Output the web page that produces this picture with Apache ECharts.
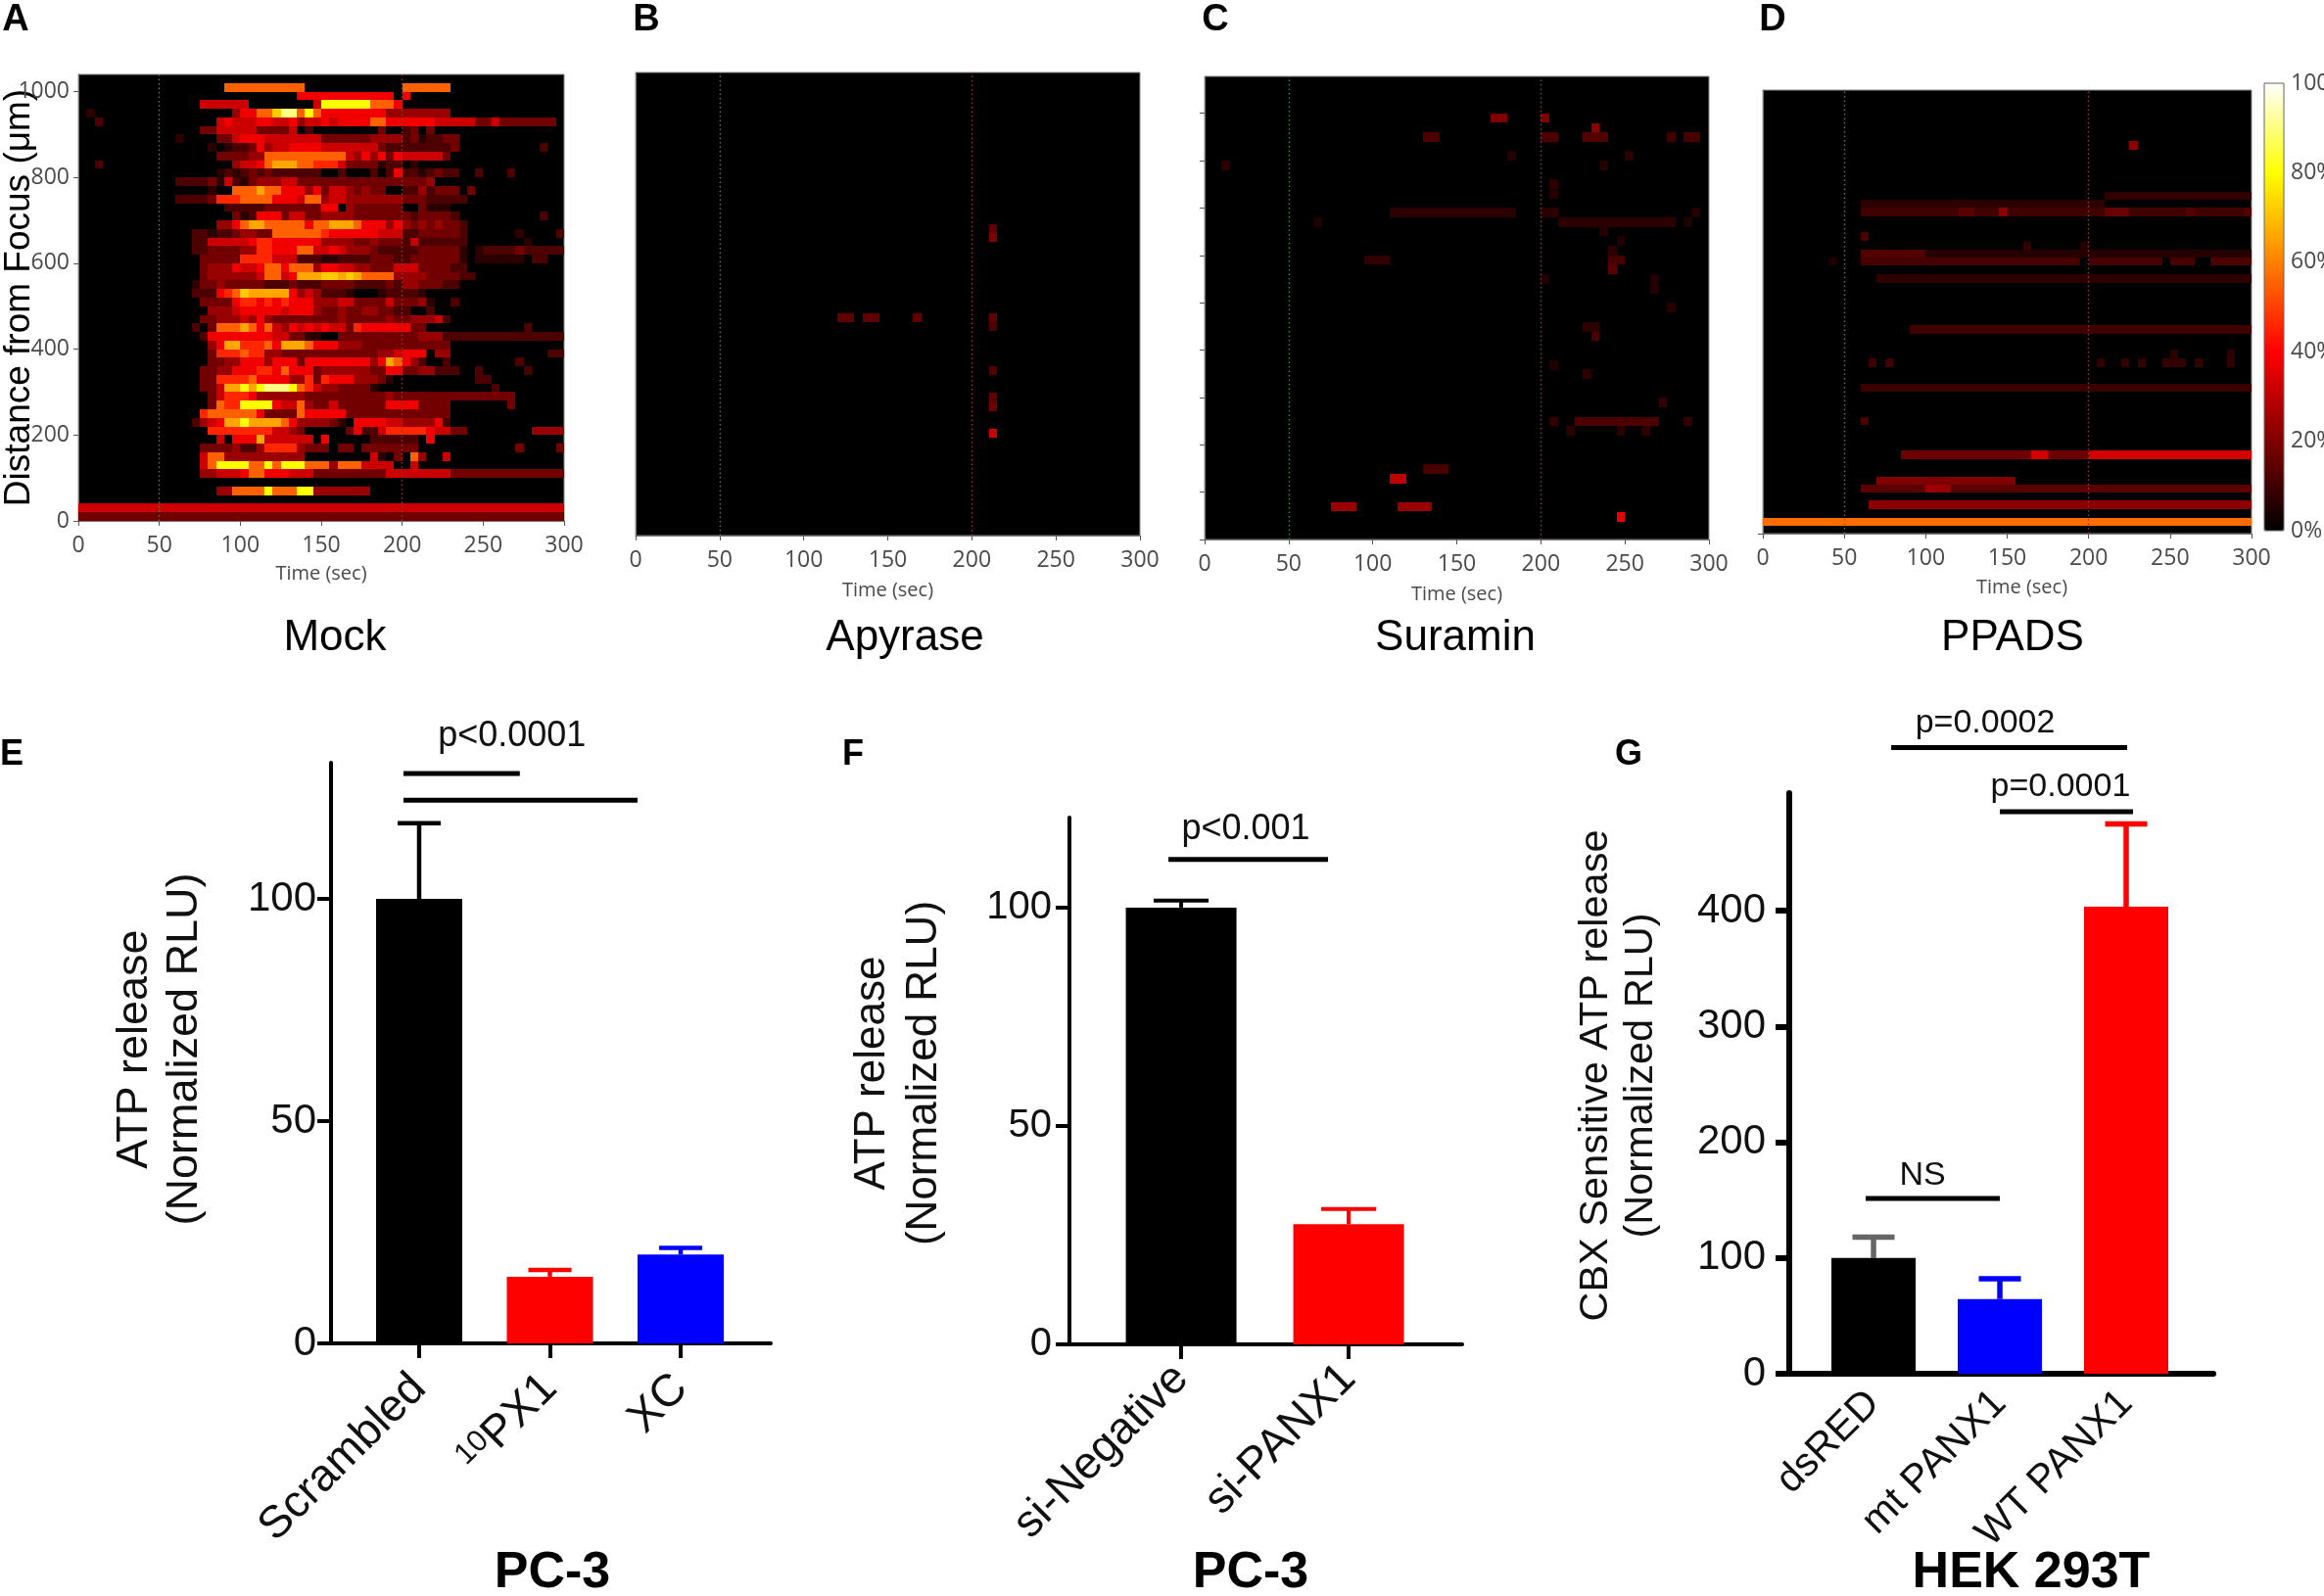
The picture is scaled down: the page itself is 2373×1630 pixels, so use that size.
<!DOCTYPE html>
<html><head><meta charset="utf-8">
<style>html,body{margin:0;padding:0;background:#fff}#c{width:2373px;height:1630px}</style>
<script src="https://cdn.jsdelivr.net/npm/echarts@6/dist/echarts.min.js"></script></head>
<body><div id="c"></div>
<script>
// ---------- heat map levels: one character per 5 s cell, % of maximum
const heatLevels = {0:0,1:7,2:12,3:18,4:24,5:32,6:38,7:46,8:55,9:66,a:72,b:80,c:90};
// Panel A, Mock: rows of 20 um from 1000-1020 (first) down to 0-20 (last), 60 columns of 5 s
const mockRows = [
"0000000000 0000000088 8888888800 0000000000 8888880000 0000000000",
"0000000000 0000000000 0000000666 6666666660 6000000000 0000000000",
"0000000000 0000055555 5000000005 bbbbbb8886 0000000000 0000000000",
"0100000000 0000000004 6688acc8b8 6666666644 4444440000 0000000000",
"0020000000 0000000565 5566556455 6566668866 6666555553 3533333330",
"0000000000 0000033555 5533335020 0000000300 2303000000 0000000000",
"0000000000 0010000335 6665555555 3333334444 2312233000 0000000000",
"0000000000 0000001012 2364556666 5555555322 2222223000 0000000200",
"0000000000 0000000333 3448888888 8885464636 5555530000 0000000000",
"0020000000 0000000004 5568999887 7753333122 0100000000 0000000000",
"0000000000 0000000121 2323222222 0020002026 2212322002 0002000000",
"0000000000 0022223152 1344455333 3333333333 3334000000 0000000000",
"0000000000 0000001008 8898866646 3554343300 2242333030 0000000000",
"0000000000 0022223777 8888666588 4554444444 3332222200 0000000000",
"0000000000 0000000022 2223333333 6604333333 0031110000 0000000000",
"0000000000 0000000003 1266635533 4444333333 3233332000 0000000200",
"0000000000 0000000446 8998888868 8999866646 4343433200 0000000000",
"0000000000 0000221223 4433888888 7666666555 2233333200 0000100002",
"0000000000 0000225555 5677666666 4444334333 2522222200 0000010000",
"0000000000 0000223333 4477666885 5654443222 2233333101 2222322222",
"0000000000 0000033333 7777555222 1122223332 2333333101 1111102200",
"0000000000 0000034446 5568868884 6655443335 5533332200 0000000000",
"0000000000 0000034444 4458856999 aa9a988884 4443333220 0000000000",
"0000000000 0000133433 3332223222 3333222232 4433322000 0000000000",
"0000000000 0000222678 a999996454 2221000122 2210000000 0000000000",
"0000000000 0000033336 7767676664 4455333353 3341002000 0000000000",
"0000000000 0000004445 6666656664 3343344332 2002000000 0000000000",
"0000000000 0000033444 5464333333 3343333343 3444520000 0000000000",
"0000000000 0000203888 9868546565 6553766666 6330000000 0000020000",
"0000000000 0000026666 6666553311 0033333333 3344422222 2222222222",
"0000000000 0000004699 7778699986 6644433333 3333330000 0000000000",
"0000000000 0000003777 8774433333 3333333445 6660440000 0000000022",
"0000000000 0000003344 6664666366 6666664698 6420020000 0000200000",
"0000000000 0000033446 6677686663 4444443366 3344222002 0000020000",
"0000000000 0000033777 7866664473 7666444310 0000000002 2000000000",
"0000000000 0000033599 b9bcccb875 4433331000 0000000000 0200000000",
"0000000000 0000003577 7644444433 3333333343 3333333333 3333000000",
"0000000000 0000003877 bbbb655843 3533333366 6633330000 0003000000",
"0000000000 0000078888 8863333866 6663333333 3333330000 0000000000",
"0000000000 0000245699 b999986444 4310666655 4444620000 0000000000",
"0000000000 0000007777 7777554300 0003622577 7776553300 0000004444",
"0000000000 0000000506 6695555550 6000002222 2206000000 0000000000",
"0000000000 0000033334 2247777433 3033033333 3300000000 0000300003",
"0000000000 0000058844 4444444400 0000005103 0840050000 0000000000",
"0000000000 0000058bbb b88b8bbb88 8488855550 0500000000 0000000000",
"0000000000 0000044555 6886665553 3333333355 5555553333 3333333333",
"0000000000 0000000000 0000000000 0000000000 0000000000 0000000000",
"0000000000 0000000448 888b888bb4 4444440000 0000000000 0000000000",
"0000000000 0000000000 0000000000 0000000000 0000000000 0000000000",
"5555555555 5555555555 5555555555 5555555555 5555555555 5555555555",
"3333333333 3333333333 3333333333 3333333333 3333333333 3333333333"
];
// Panels B-D: [start s, end s, distance um (row centre), % of maximum]
const apyraseBands = [
[120,130,490,15],[135,145,490,15],[165,170,490,15],[210,215,690,15],[210,215,670,20],
[210,215,490,15],[210,215,470,12],[210,215,370,13],[210,215,310,15],[210,215,290,17],[210,215,230,32]];
const suraminBands = [
[170,180,890,20],[200,205,890,20],[230,235,868,22],[130,140,850,12],[200,210,850,12],[225,240,850,13],[275,280,850,10],[285,295,850,11],
[180,185,810,6],[250,255,810,7],[10,15,790,7],[235,240,790,6],[205,210,750,7],[205,210,729,6],
[110,185,690,7],[200,210,690,7],[290,295,690,6],[65,70,670,5],[210,280,670,7],[285,290,670,5],[235,240,650,6],[245,250,630,5],
[240,245,610,7],[95,110,590,8],[240,250,590,11],[240,245,570,14],[200,205,550,5],[265,270,550,6],[265,270,530,6],[275,280,490,6],
[225,235,449,7],[230,235,429,12],[205,210,368,5],[225,230,350,7],[270,275,289,8],[205,210,249,8],[220,270,249,12],[285,290,249,8],
[215,220,229,7],[245,250,229,7],[260,265,229,7],[130,145,149,11],[110,120,128,30],[75,90,69,24],[115,135,69,24],[245,250,48,36]];
const ppadsBands = [
[0,300,28,57],[65,300,68,22],[60,300,106,14],[100,115,106,24],[70,155,125,20],
[85,165,186,17],[165,175,186,33],[175,200,186,17],[200,300,186,33],[60,65,265,12],[60,300,344,9],
[65,70,403,10],[75,80,403,10],[205,210,403,8],[220,225,403,8],[230,235,403,8],[245,255,403,8],[255,260,403,8],[265,270,403,8],[285,290,403,8],
[250,255,423,7],[285,290,423,7],[90,300,481,10],[70,300,601,7],
[40,45,641,5],[60,195,641,11],[200,245,641,11],[250,265,641,11],[275,300,641,12],
[60,100,660,13],[100,300,660,6],[160,165,678,8],[195,200,678,6],[60,65,700,12],
[60,300,758,10],[120,130,758,14],[145,150,758,22],[210,225,758,16],[260,265,758,13],[295,300,758,13],
[60,210,777,7],[210,300,796,8],[225,230,915,22]];
const heatScaleColors = ['#000000','#800000','#ff0000','#ff8000','#ffff00','#ffffff'];
const colorbarTicks = [0,20,40,60,80,100];
const timeTicks = [0,50,100,150,200,250,300];
const mockDistanceTicks = [0,200,400,600,800,1000];
const suraminDistanceTicks = [0,100,200,300,400,500,600,700,800,900];
// ---------- bar panels
const eCategories = ['Scrambled','{sup|10}PX1','XC'];
const eValues = [100,15,20];
const eUpper = [117,16.5,21.5];
const fCategories = ['si-Negative','si-PANX1'];
const fValues = [100,27.5];
const fUpper = [101.6,31];
const gCategories = ['dsRED','mt PANX1','WT PANX1'];
const gValues = [100,64.5,403.5];
const gUpper = [118,82,475];
const eTicks = [0,50,100];
const fTicks = [0,50,100];
const gTicks = [0,100,200,300,400];
// significance lines [from category, to category, level] and labels [category, level, text]
const eSigLines = [[-0.12,0.77,128.2],[-0.12,1.67,122.2]];
const eSigLabels = [[0.71,136.5,'p<0.0001']];
const fSigLines = [[-0.076,0.877,111]];
const fSigLabels = [[0.386,118,'p<0.001']];
const gSigLines = [[0.14,2.008,541],[1.0,2.054,485.6],[-0.062,1.0,151.5]];
const gSigLabels = [[0.884,562,'p=0.0002'],[1.48,507,'p=0.0001'],[0.388,171,'NS']];

const SANS='"Liberation Sans", Arial, sans-serif';
const NARROW='"Liberation Sans Narrow","Open Sans",sans-serif';
const GREY='#4a4a4a';
const grid=[], xAxis=[], yAxis=[], series=[], heatIdx=[];

function mockBands(){
  const out=[];
  mockRows.forEach((row,i)=>{
    const rowIdx=mockRows.length-1-i;
    row.split(' ').forEach((g,gi)=>{
      for(let k=0;k<g.length;k++){
        const v=heatLevels[g[k]];
        if(v>0){const t=(gi*10+k)*5; out.push([t,t+5,rowIdx*20+10,v]);}
      }
    });
  });
  return out;
}
function heatPanel(c){
  const gi=grid.length;
  grid.push({left:c.x0,top:c.y0,width:c.x1-c.x0,height:c.y1-c.y0,show:true,backgroundColor:'#000',borderColor:'#8a8a8a',borderWidth:1,containLabel:false,outerBoundsMode:'none'});
  xAxis.push({gridIndex:gi,type:'value',min:0,max:300,interval:50,splitLine:{show:false},
    axisLine:{show:true,lineStyle:{color:'#777',width:1}},axisTick:{show:true,length:5,lineStyle:{color:'#555'}},
    axisLabel:{color:GREY,fontFamily:NARROW,fontSize:23,margin:14,customValues:timeTicks,showMinLabel:true,showMaxLabel:true},
    name:'Time (sec)',nameLocation:'middle',nameGap:c.nameGap,
    nameTextStyle:{color:GREY,fontFamily:NARROW,fontSize:20,padding:c.namePad||0}});
  const ya={gridIndex:gi,type:'value',min:0,max:c.ymax,splitLine:{show:false},
    axisLine:{show:true,onZero:false,lineStyle:{color:'#777',width:1}},
    axisTick:{show:!!c.ticks,length:5,lineStyle:{color:'#555'},customValues:c.ticks||[]},
    axisLabel:{show:!!c.labels,color:GREY,fontFamily:NARROW,fontSize:23,margin:9,customValues:c.ticks||[],formatter:v=>String(v)}};
  if(c.yName){Object.assign(ya,{name:c.yName,nameLocation:'middle',nameGap:42,nameRotate:90,nameMoveOverlap:false,nameTextStyle:{color:'#000',fontFamily:SANS,fontSize:37}});}
  yAxis.push(ya);
  heatIdx.push(series.length);
  const h=c.rowH;
  series.push({type:'custom',xAxisIndex:gi,yAxisIndex:gi,data:c.data,encode:{x:[0,1],y:2},silent:true,
    renderItem(p,api){
      const a=api.coord([api.value(0),api.value(2)+h/2]), b=api.coord([api.value(1),api.value(2)-h/2]);
      const x=Math.round(a[0]),y=Math.round(a[1]);
      return {type:'rect',shape:{x,y,width:Math.round(b[0])-x,height:Math.round(b[1])-y},style:{fill:api.visual('color')}};
    },
    markLine:{silent:true,symbol:'none',animation:false,label:{show:false},
      data:[{xAxis:50,lineStyle:{color:'#4a7d4e',type:[1.5,3],width:1.4}},{xAxis:200,lineStyle:{color:'#8e3a32',type:[1.5,3],width:1.4}}]}});
}
function barPanel(c){
  const gi=grid.length;
  grid.push({left:c.x,top:c.y,width:c.w,height:c.h,outerBoundsMode:'none'});
  xAxis.push({gridIndex:gi,type:'value',min:c.xmin,max:c.xmax,splitLine:{show:false},
    axisLine:{show:true,onZero:false,lineStyle:{color:'#000',width:c.lw}},
    axisTick:{show:c.xTicks,length:15,lineStyle:{color:'#000',width:c.lw},customValues:c.cats.map((_,i)=>i)},
    axisLabel:{color:'#111',fontFamily:SANS,fontSize:c.catSize,rotate:c.rot,margin:c.catMargin,
      customValues:c.cats.map((_,i)=>i),formatter:v=>c.cats[v],
      rich:{sup:{fontFamily:SANS,fontSize:31,verticalAlign:'top',padding:[0,0,16,0],color:'#111'}}}});
  yAxis.push({gridIndex:gi,type:'value',min:0,max:c.ymax,splitLine:{show:false},
    axisLine:{show:true,onZero:false,lineStyle:{color:'#000',width:c.lw}},
    axisTick:{show:true,length:14,lineStyle:{color:'#000',width:c.lw},customValues:c.ticks},
    axisLabel:{color:'#111',fontFamily:SANS,fontSize:c.tickSize,margin:c.tickMargin,customValues:c.ticks},
    name:c.yName,nameLocation:'middle',nameRotate:90,nameGap:c.nameGap,
    nameTextStyle:{color:'#111',fontFamily:SANS,fontSize:c.nameSize,lineHeight:c.nameLH,padding:[0,0,0,c.namePad||0],align:'center'}});
  series.push({type:'bar',xAxisIndex:gi,yAxisIndex:gi,barWidth:c.barW,silent:true,
    data:c.vals.map((v,i)=>({value:[i,v],itemStyle:{color:c.colors[i]}}))});
  const capHalf=c.capW/2, sw=c.errW;
  series.push({type:'custom',xAxisIndex:gi,yAxisIndex:gi,silent:true,encode:{x:0,y:[1,2]},
    data:c.vals.map((v,i)=>[i,v,c.upper[i]]),
    renderItem(p,api){
      const a=api.coord([api.value(0),api.value(1)]), b=api.coord([api.value(0),api.value(2)]);
      const col=c.errColors[p.dataIndex];
      return {type:'group',children:[
        {type:'rect',shape:{x:a[0]-sw/2,y:b[1],width:sw,height:a[1]-b[1]},style:{fill:col}},
        {type:'rect',shape:{x:a[0]-capHalf,y:b[1]-sw/2,width:capHalf*2,height:sw},style:{fill:col}}]};
    }});
  series.push({type:'custom',xAxisIndex:gi,yAxisIndex:gi,silent:true,clip:false,encode:{x:[0,1],y:2},data:c.sigLines,
    renderItem(p,api){
      const a=api.coord([api.value(0),api.value(2)]), b=api.coord([api.value(1),api.value(2)]);
      return {type:'rect',shape:{x:a[0],y:a[1]-2.5,width:b[0]-a[0],height:5},style:{fill:'#000'}};
    }});
  series.push({type:'custom',xAxisIndex:gi,yAxisIndex:gi,silent:true,clip:false,encode:{x:0,y:1},
    data:c.sigLabels.map(d=>[d[0],d[1]]),
    renderItem(p,api){
      const a=api.coord([api.value(0),api.value(1)]);
      return {type:'text',style:{text:c.sigLabels[p.dataIndex][2],x:a[0],y:a[1],textAlign:'center',textVerticalAlign:'middle',
        fontFamily:SANS,fontSize:c.sigSize,fill:'#111'}};
    }});
}

heatPanel({x0:80,x1:576,y0:76,y1:532,ymax:1040,rowH:20,data:mockBands(),ticks:mockDistanceTicks,labels:true,yName:'Distance from Focus (μm)',nameGap:44});
heatPanel({x0:649,x1:1164,y0:74,y1:547,ymax:1040,rowH:20,data:apyraseBands,nameGap:46});
heatPanel({x0:1230,x1:1745,y0:78,y1:551,ymax:978,rowH:20,data:suraminBands,ticks:suraminDistanceTicks,nameGap:46});
heatPanel({x0:1800,x1:2299,y0:92,y1:545,ymax:1045,rowH:19.5,data:ppadsBands,ticks:[0],nameGap:45,namePad:[0,0,0,30]});

// colour bar labels
const cbIdx=grid.length;
grid.push({left:2312,top:85,width:20,height:457,show:true,borderColor:'#666',borderWidth:1,backgroundColor:'transparent',z:5,outerBoundsMode:'none'});
xAxis.push({gridIndex:cbIdx,type:'value',min:0,max:1,show:false});
yAxis.push({gridIndex:cbIdx,type:'value',position:'right',min:0,max:100,splitLine:{show:false},axisLine:{show:false},axisTick:{show:false},
  axisLabel:{color:GREY,fontFamily:NARROW,fontSize:23,margin:7,customValues:colorbarTicks,formatter:'{value}%'}});
series.push({type:'scatter',xAxisIndex:cbIdx,yAxisIndex:cbIdx,data:[],silent:true});

barPanel({x:338,y:779,w:449,h:593,xmin:-0.674,xmax:2.689,ymax:130.6,lw:4,xTicks:true,cats:eCategories,vals:eValues,upper:eUpper,
  colors:['#000','#f00','#00f'],errColors:['#000','#f00','#00f'],barW:88,capW:44,errW:4.5,ticks:eTicks,tickSize:42,tickMargin:15,catSize:46,rot:45,catMargin:39,
  yName:'ATP release\n(Normalized RLU)',nameSize:45,nameLH:51,nameGap:124,namePad:8,sigLines:eSigLines,sigLabels:eSigLabels,sigSize:36});
barPanel({x:1092,y:835,w:401,h:538,xmin:-0.667,xmax:1.678,ymax:120.6,lw:4,xTicks:true,cats:fCategories,vals:fValues,upper:fUpper,
  colors:['#000','#f00'],errColors:['#000','#f00'],barW:113,capW:56,errW:4,ticks:fTicks,tickSize:40,tickMargin:18,catSize:46,rot:45,catMargin:28,
  yName:'ATP release\n(Normalized RLU)',nameSize:44,nameLH:53,nameGap:122,namePad:16,sigLines:fSigLines,sigLabels:fSigLabels,sigSize:36});
barPanel({x:1827,y:810,w:433,h:593,xmin:-0.667,xmax:2.69,ymax:501.6,lw:6,xTicks:false,cats:gCategories,vals:gValues,upper:gUpper,
  colors:['#000','#00f','#f00'],errColors:['#666','#00f','#f00'],barW:86,capW:43,errW:5.5,ticks:gTicks,tickSize:42,tickMargin:24,catSize:41,rot:45,catMargin:24,
  yName:'CBX Sensitive ATP release\n(Normalized RLU)',nameSize:41.5,nameLH:46,nameGap:128,namePad:16,sigLines:gSigLines,sigLabels:gSigLabels,sigSize:34});

function t(text,x,y,size,bold,align){
  return {text,left:x,top:y,textAlign:align||'center',textVerticalAlign:'middle',padding:0,
    textStyle:{color:'#000',fontFamily:SANS,fontSize:size,fontWeight:bold?'bold':'normal'}};
}
const title=[
  t('A',16,21,38,true),t('B',660,21,38,true),t('C',1241,21,38,true),t('D',1810,21,38,true),
  t('E',12,771,36,true),t('F',871,771,36,true),t('G',1663,771,36,true),
  t('Mock',342,652,44),t('Apyrase',924,652,44),t('Suramin',1486,652,44),t('PPADS',2055,652,44),
  t('PC-3',564,1607,52,true),t('PC-3',1277,1607,52,true),t('HEK 293T',2074,1607,52,true)
];

const chart=echarts.init(document.getElementById('c'),null,{renderer:'canvas'});
chart.setOption({animation:false,backgroundColor:'#fff',title,grid,xAxis,yAxis,series,tooltip:{show:false},
  visualMap:[{type:'continuous',min:0,max:100,seriesIndex:heatIdx,dimension:3,show:true,calculable:false,realtime:false,
    left:2312,top:85,itemWidth:20,itemHeight:457,padding:0,text:null,showLabel:false,
    inRange:{color:heatScaleColors},textStyle:{fontSize:0}}]});
</script></body></html>
